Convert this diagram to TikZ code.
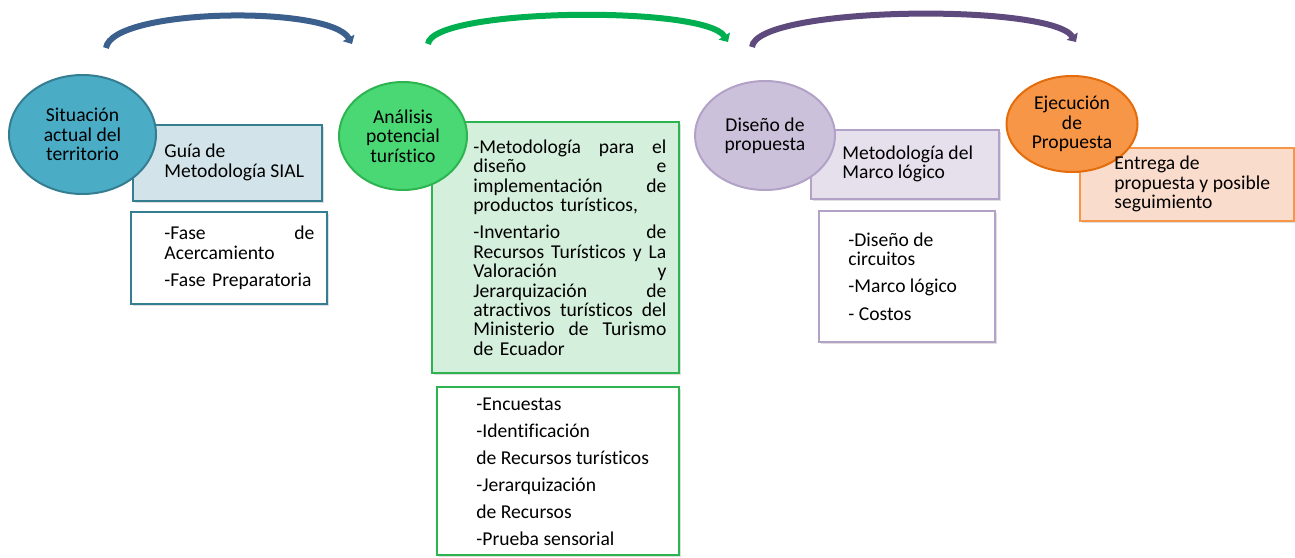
\documentclass[tikz,border=0pt]{standalone}
\usepackage{fontspec}
\setmainfont{Carlito}[Ligatures={NoCommon}]
\usetikzlibrary{arrows.meta,positioning,shapes.geometric,shadows}

\definecolor{sitdark}{RGB}{53,125,145}
\definecolor{sitfill}{RGB}{75,172,198}
\definecolor{sitlight}{RGB}{210,228,234}
\definecolor{anadark}{RGB}{45,180,80}
\definecolor{anafill}{RGB}{74,216,116}
\definecolor{analight}{RGB}{212,239,219}
\definecolor{disdark}{RGB}{179,162,199}
\definecolor{disfill}{RGB}{204,193,218}
\definecolor{dislight}{RGB}{229,224,236}
\definecolor{ejedark}{RGB}{228,108,10}
\definecolor{ejefill}{RGB}{247,150,70}
\definecolor{ejelight}{RGB}{250,220,205}
\definecolor{arcblue}{RGB}{60,96,142}
\definecolor{arcgreen}{RGB}{0,176,80}
\definecolor{arcpurple}{RGB}{94,74,124}

\tikzset{
	every node/.style={font=\fontsize{9.8}{9.7}\selectfont},
	stage/.style={ellipse, draw, line width=1pt, align=center, inner sep=0pt},
	infobox/.style={rectangle, draw, line width=1pt, inner sep=0pt,
		drop shadow={shadow xshift=0.8pt, shadow yshift=-1.2pt, opacity=0.25}},
	boxtext/.style={anchor=west, align=left, inner sep=0pt},
	flow/.style={line width=3pt, -{Triangle[length=3.5pt,width=6.5pt]}}
}

\begin{document}
\begin{tikzpicture}[x=0.5pt, y=-0.5pt]
	\useasboundingbox (0,0) rectangle (1295,557);

	% boxes
	\node[infobox, fill=sitlight, draw=sitdark, minimum width=94.5pt, minimum height=38pt]	(sitguia)	at (227.5,163)	{};
	\node[infobox, fill=white, draw=sitdark, minimum width=98pt, minimum height=46pt]		(sitfases)	at (229,258)	{};
	\node[infobox, fill=analight, draw=anadark, minimum width=123.5pt, minimum height=125.5pt]	(anametodo)	at (555.5,247.5)	{};
	\node[infobox, fill=white, draw=anadark, minimum width=121pt, minimum height=84pt]		(anatecnicas)	at (558,471)	{};
	\node[infobox, fill=dislight, draw=disdark, minimum width=94pt, minimum height=34.5pt]	(dismarco)	at (905,164.5)	{};
	\node[infobox, fill=white, draw=disdark, minimum width=88pt, minimum height=65.5pt]		(disitems)	at (907,276.5)	{};
	\node[infobox, fill=ejelight, draw=ejefill, minimum width=107pt, minimum height=36.5pt]	(ejeentrega)	at (1187,184.5)	{};

	% stages
	\node[stage, fill=sitfill, draw=sitdark, minimum width=73.5pt, minimum height=59.5pt]	(sit)	at (82.5,134.5)	{Situación\\actual del\\territorio};
	\node[stage, fill=anafill, draw=anadark, minimum width=64pt, minimum height=54pt]	(ana)	at (403,136)	{Análisis\\potencial\\turístico};
	\node[stage, fill=disfill, draw=disdark, minimum width=70pt, minimum height=54.5pt]	(dis)	at (765,135.5)	{Diseño de\\propuesta};
	\node[stage, fill=ejefill, draw=ejedark, minimum width=65.5pt, minimum height=48pt]	(eje)	at (1072,124)	{Ejecución\\de\\Propuesta};

	% texts
	\node[boxtext]	(sitguiatxt)	at (164,162.5)	{Guía de\\Metodología SIAL};
	\node[boxtext, text width=75pt]	(sitfasestxt)	at (164,258)	{-Fase\hfill de\\Acercamiento\\[4pt]-Fase Preparatoria};
	\node[boxtext, text width=96.5pt]	(anametodotxt)	at (473,247.5)
		{-Metodología\hfill para\hfill el\\diseño\hfill e\\implementación\hfill de\\productos turísticos,\\[4pt]%
		-Inventario\hfill de\\Recursos\hfill Turísticos\hfill y\hfill La\\Valoración\hfill y\\Jerarquización\hfill de\\%
		atractivos\hfill turísticos\hfill del\\Ministerio\hfill de\hfill Turismo\\de Ecuador};
	\node[boxtext, font=\fontsize{9.8}{13.5}\selectfont]	(anatecnicastxt)	at (476,471.5)
		{-Encuestas\\-Identificación\\de Recursos turísticos\\-Jerarquización\\de Recursos\\-Prueba sensorial};
	\node[boxtext]	(dismarcotxt)	at (842,164)	{Metodología del\\Marco lógico};
	\node[boxtext]	(disitemstxt)	at (848,276.5)	{-Diseño de\\circuitos\\[4pt]-Marco lógico\\[4pt]- Costos};
	\node[boxtext]	(ejeentregatxt)	at (1114,184)	{Entrega de\\propuesta y posible\\seguimiento};

	% arcs
	\coordinate	(flowsit)	at (106,48);
	\coordinate	(flowana)	at (352,44);
	\coordinate	(flowanb)	at (428,44);
	\coordinate	(flowdis)	at (728,42);
	\coordinate	(flowdisb)	at (752,47);
	\coordinate	(floweje)	at (1076,42);
	\draw[flow, arcblue]	(flowsit) .. controls (112,8) and (330,5) .. (flowana);
	\draw[flow, arcgreen]	(flowanb) .. controls (432,8) and (705,5) .. (flowdis);
	\draw[flow, arcpurple]	(flowdisb) .. controls (756,6) and (1050,3) .. (floweje);
\end{tikzpicture}
\end{document}
